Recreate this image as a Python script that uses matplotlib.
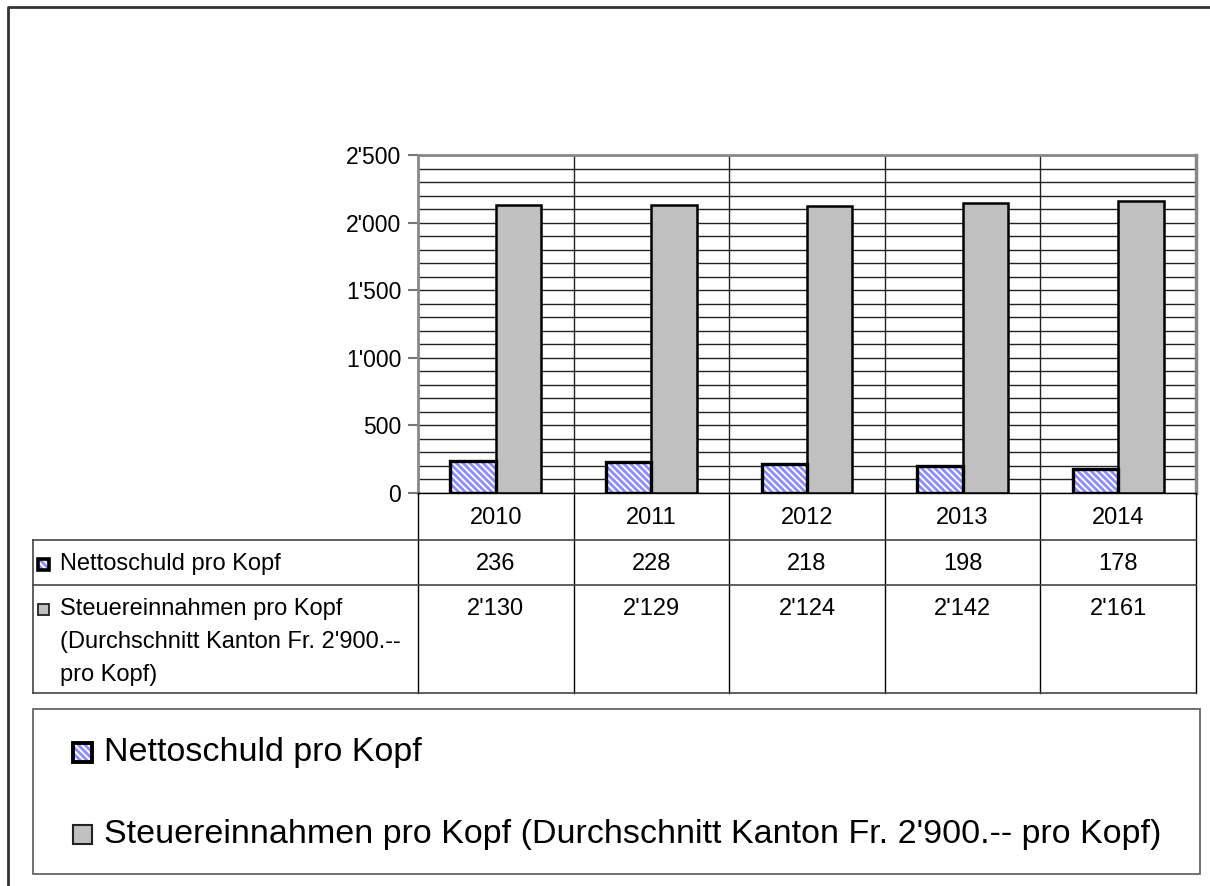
import matplotlib
matplotlib.use('Agg')
import matplotlib.pyplot as plt
from matplotlib.patches import Rectangle
from matplotlib.lines import Line2D
from matplotlib.ticker import MultipleLocator, FuncFormatter

plt.rcParams['font.family'] = ['Liberation Sans', 'DejaVu Sans']
plt.rcParams['hatch.linewidth'] = 2.0

# data
years = ['2010', '2011', '2012', '2013', '2014']
nettoschuld = [236, 228, 218, 198, 178]
steuer = [2130, 2129, 2124, 2142, 2161]
label_netto = 'Nettoschuld pro Kopf'
label_steuer = 'Steuereinnahmen pro Kopf (Durchschnitt Kanton Fr. 2\'900.-- pro Kopf)'
label_steuer_table = ['Steuereinnahmen pro Kopf', '(Durchschnitt Kanton Fr. 2\'900.--', 'pro Kopf)']

W, H = 1210, 886
fig = plt.figure(figsize=(W / 100, H / 100), dpi=100)


def fx(px):
    return px / W


def fy(py):
    return 1 - py / H


def fmt(v):
    return f"{int(v):,}".replace(',', "'")


hatch_col = '#8C8CFF'
hatch = '\\' * 5
grey = '#C0C0C0'
fs_tab = 17

# plot area
L, R, T, B = 418, 1196, 155, 493
ax = fig.add_axes([fx(L), fy(B), fx(R) - fx(L), fy(T) - fy(B)])
x = range(len(years))
w = 0.292
xn = [i - w / 2 for i in x]
xs = [i + w / 2 for i in x]
ax.bar(xn, nettoschuld, w, color='white', edgecolor=hatch_col, linewidth=0, hatch=hatch, zorder=3)
ax.bar(xn, nettoschuld, w, fill=False, edgecolor='black', linewidth=2.4, zorder=4)
ax.bar(xs, steuer, w, color=grey, edgecolor='black', linewidth=1.8, zorder=3)

ax.set_xlim(-0.5, len(years) - 0.5)
ax.set_ylim(0, 2500)
ax.yaxis.set_major_locator(MultipleLocator(500))
ax.yaxis.set_minor_locator(MultipleLocator(100))
ax.yaxis.set_major_formatter(FuncFormatter(lambda v, p: fmt(v)))
ax.grid(True, which='both', axis='y', color='#222222', linewidth=1, zorder=0)
for i in range(1, len(years)):
    ax.axvline(i - 0.5, color='#222222', linewidth=1, zorder=0)
ax.set_xticks([])
ax.tick_params(axis='y', which='major', length=7, width=1.5, color='#777777',
               labelsize=16.5, pad=5)
ax.tick_params(axis='y', which='minor', length=0)
for s in ['left', 'top', 'right']:
    ax.spines[s].set_color('#888888')
    ax.spines[s].set_linewidth(2)
ax.spines['right'].set_linewidth(2.5)
ax.spines['bottom'].set_color('black')
ax.spines['bottom'].set_linewidth(1)

# data table
TL = 33
rows = [493, 540, 585, 693]
cols = [L + (R - L) * i / len(years) for i in range(len(years) + 1)]
lc = '#444444'
for c in cols:
    fig.add_artist(Line2D([fx(c), fx(c)], [fy(rows[0]), fy(rows[-1])], color='black', lw=1))
for r in rows[1:]:
    fig.add_artist(Line2D([fx(TL), fx(R)], [fy(r), fy(r)], color=lc, lw=1.2))
fig.add_artist(Line2D([fx(TL), fx(TL)], [fy(rows[1]), fy(rows[-1])], color=lc, lw=1.2))

for i, yr in enumerate(years):
    cx = (cols[i] + cols[i + 1]) / 2
    fig.text(fx(cx), fy(518), yr, ha='center', va='center', fontsize=fs_tab)
    fig.text(fx(cx), fy(564), fmt(nettoschuld[i]), ha='center', va='center', fontsize=fs_tab)
    fig.text(fx(cx), fy(609), fmt(steuer[i]), ha='center', va='center', fontsize=fs_tab)

# table keys
k = 11
fig.add_artist(Rectangle((fx(38), fy(564 + k / 2)), fx(k), k / H, facecolor='white',
                         edgecolor=hatch_col, lw=0, hatch=hatch, transform=fig.transFigure))
fig.add_artist(Rectangle((fx(38), fy(564 + k / 2)), fx(k), k / H, fill=False,
                         edgecolor='black', lw=2.6, transform=fig.transFigure))
fig.add_artist(Rectangle((fx(38), fy(609 + k / 2)), fx(k), k / H, facecolor=grey,
                         edgecolor='#222222', lw=1.3, transform=fig.transFigure))
fig.text(fx(60), fy(564), label_netto, ha='left', va='center', fontsize=fs_tab)
for j, line in enumerate(label_steuer_table):
    fig.text(fx(60), fy(609 + 33 * j), line, ha='left', va='center', fontsize=fs_tab)

# legend box
fig.add_artist(Rectangle((fx(33), fy(874)), fx(1200) - fx(33), fy(709) - fy(874), fill=False,
                         edgecolor='#666666', lw=1.3, transform=fig.transFigure))
m = 19
fig.add_artist(Rectangle((fx(73), fy(752 + m / 2)), fx(m), m / H, facecolor='white',
                         edgecolor=hatch_col, lw=0, hatch=hatch, transform=fig.transFigure))
fig.add_artist(Rectangle((fx(73), fy(752 + m / 2)), fx(m), m / H, fill=False,
                         edgecolor='black', lw=2.8, transform=fig.transFigure))
fig.add_artist(Rectangle((fx(73), fy(834 + m / 2)), fx(m), m / H, facecolor=grey,
                         edgecolor='#222222', lw=1.5, transform=fig.transFigure))
fig.text(fx(104), fy(753), label_netto, ha='left', va='center', fontsize=24.5)
fig.text(fx(104), fy(835), label_steuer, ha='left', va='center', fontsize=24.5)

# outer frame (cut off at right and bottom)
fig.add_artist(Line2D([fx(8), fx(8), fx(W + 5)], [fy(H + 5), fy(7), fy(7)], color='#333333', lw=2))

fig.savefig('out.png', dpi=100)
